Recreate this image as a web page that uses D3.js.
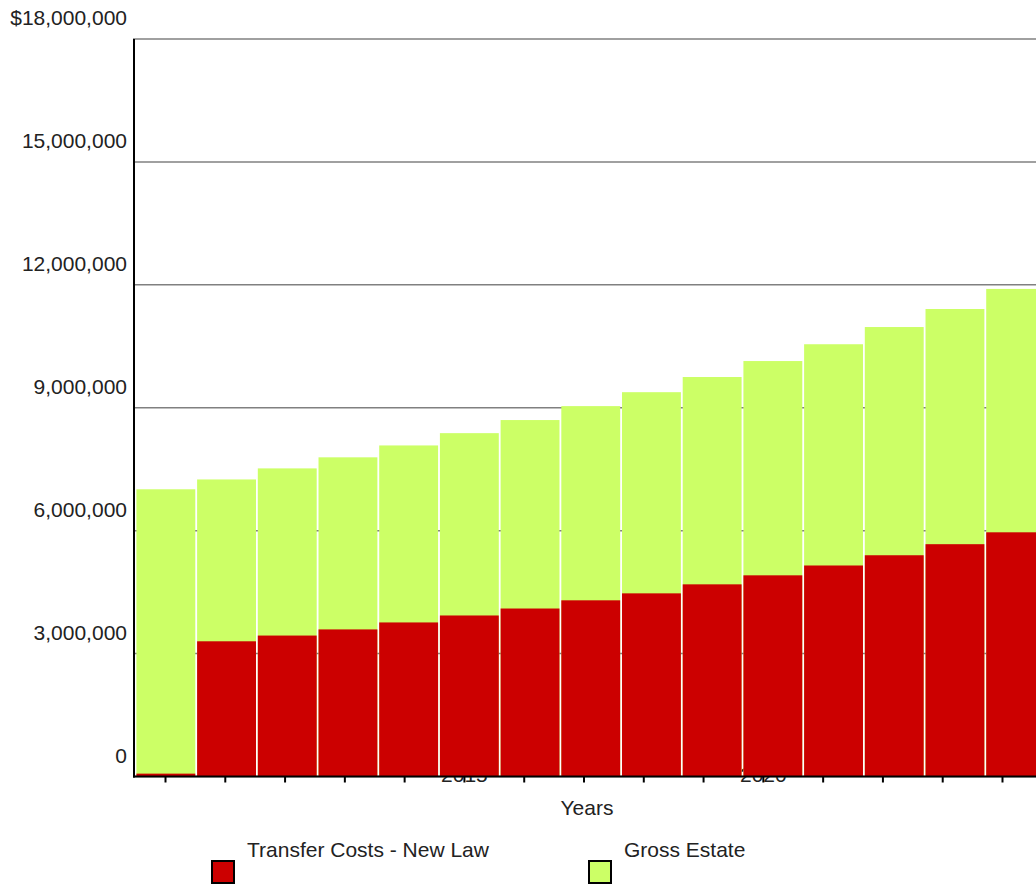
<!DOCTYPE html>
<html>
<head>
<meta charset="utf-8">
<script src="https://cdn.jsdelivr.net/npm/d3@7"></script>
<style>
  body { margin: 0; background: #fff; }
  svg { display: block; font-family: "Liberation Sans", Arial, sans-serif; }
</style>
</head>
<body>
<svg width="1036" height="884"></svg>
<script>
const years = [2010, 2011, 2012, 2013, 2014, 2015, 2016, 2017, 2018, 2019, 2020, 2021, 2022, 2023, 2024];
const grossEstate = [7010000, 7250000, 7520000, 7790000, 8080000, 8380000, 8700000, 9040000,
                     9380000, 9750000, 10140000, 10550000, 10970000, 11410000, 11900000];
const transferCosts = [70000, 3300000, 3440000, 3590000, 3760000, 3930000, 4100000, 4300000,
                       4470000, 4690000, 4910000, 5150000, 5400000, 5670000, 5960000];
const yTicks = [0, 3000000, 6000000, 9000000, 12000000, 15000000, 18000000];
const yearLabels = [2015, 2020];
const seriesNames = ['Transfer Costs - New Law', 'Gross Estate'];
const seriesColors = ['#cc0000', '#ccff66'];

const svg = d3.select('svg');
const width = +svg.attr('width');
const plotLeft = 134, plotTop = 39, plotBottom = 776.5;

const yScale = d3.scaleLinear().domain([0, 18000000]).range([plotBottom, plotTop]);
const xBand = d3.scaleBand().domain(years).range([135.5, 1046])
  .paddingInner(0.03).paddingOuter(0.015);
const xTick = d3.scaleLinear().domain([2010, 2024]).range([165, 1002]);

// year labels sit behind the bars
const labelAxis = d3.axisBottom(xTick).tickValues(yearLabels).tickSize(0).tickPadding(0)
  .tickFormat(d3.format('d'));
const labelG = svg.append('g').attr('transform', `translate(0,${plotBottom})`).call(labelAxis);
labelG.select('.domain').remove();
labelG.selectAll('text').attr('dy', null).attr('y', 5.5)
  .style('font-size', '21px').style('fill', '#222').style('font-family', 'inherit');

// gridlines
svg.append('g').selectAll('line').data(yTicks).enter().append('line')
  .attr('x1', plotLeft - 1).attr('x2', width)
  .attr('y1', d => yScale(d)).attr('y2', d => yScale(d))
  .attr('stroke', '#808080').attr('stroke-width', 1.5);

// bars
svg.append('g').selectAll('rect').data(years).enter().append('rect')
  .attr('x', d => xBand(d)).attr('width', xBand.bandwidth())
  .attr('y', (d, i) => yScale(grossEstate[i]))
  .attr('height', (d, i) => plotBottom - yScale(grossEstate[i]))
  .attr('fill', seriesColors[1]);
svg.append('g').selectAll('rect').data(years).enter().append('rect')
  .attr('x', d => xBand(d)).attr('width', xBand.bandwidth())
  .attr('y', (d, i) => yScale(transferCosts[i]))
  .attr('height', (d, i) => plotBottom - yScale(transferCosts[i]))
  .attr('fill', seriesColors[0]);

// axes
svg.append('line').attr('x1', plotLeft).attr('x2', plotLeft).attr('y1', plotTop).attr('y2', plotBottom + 1)
  .attr('stroke', '#000').attr('stroke-width', 2);
const xAxis = d3.axisBottom(xTick).tickValues(years).tickSize(6).tickFormat('');
const xAxisG = svg.append('g').attr('transform', `translate(0,${plotBottom})`).call(xAxis);
xAxisG.select('.domain').remove();
xAxisG.selectAll('.tick line').attr('stroke', '#000').attr('stroke-width', 2);
svg.append('line').attr('x1', plotLeft - 1).attr('x2', width).attr('y1', plotBottom).attr('y2', plotBottom)
  .attr('stroke', '#000').attr('stroke-width', 2);

// y labels above gridlines
svg.append('g').selectAll('text').data(yTicks).enter().append('text')
  .attr('x', 127).attr('y', d => yScale(d) - 14)
  .attr('text-anchor', 'end').style('font-size', '21px').style('fill', '#222')
  .text(d => (d === 18000000 ? '$' : '') + d3.format(',')(d));

svg.append('text').attr('x', 587).attr('y', 815).attr('text-anchor', 'middle')
  .style('font-size', '21px').style('fill', '#222').text('Years');

// legend
const legendX = [212, 589];
const legend = svg.append('g').selectAll('g').data(seriesNames).enter().append('g');
legend.append('rect')
  .attr('x', (d, i) => legendX[i]).attr('y', 861).attr('width', 22).attr('height', 22)
  .attr('fill', (d, i) => seriesColors[i]).attr('stroke', '#000').attr('stroke-width', 2);
legend.append('text')
  .attr('x', (d, i) => legendX[i] + 35).attr('y', 857)
  .style('font-size', '21px').style('fill', '#222').text(d => d);
</script>
</body>
</html>
